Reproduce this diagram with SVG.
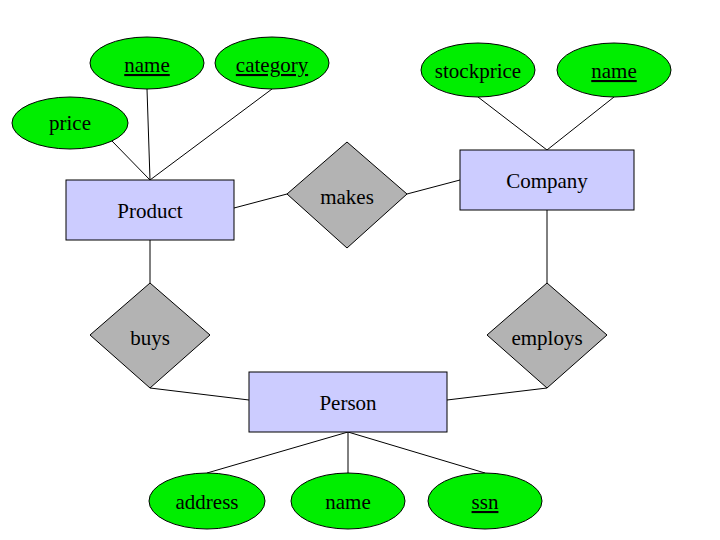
<svg xmlns="http://www.w3.org/2000/svg" width="720" height="540" viewBox="0 0 720 540">
<style>
.e{fill:#00ee00;stroke:#000;stroke-width:1}
.r{fill:#ccccff;stroke:#000;stroke-width:1}
.d{fill:#b3b3b3;stroke:#000;stroke-width:1}
.c line{stroke:#000;stroke-width:1}
text{font-family:"Liberation Serif",serif;font-size:21px;text-anchor:middle;fill:#000}
.u{text-decoration:underline}
</style>
<rect width="720" height="540" fill="#fff"/>
<g class="c">
<line x1="147" y1="89" x2="150" y2="180"/>
<line x1="272" y1="89" x2="150" y2="180"/>
<line x1="112" y1="141" x2="150" y2="180"/>
<line x1="234" y1="208" x2="287" y2="194"/>
<line x1="407" y1="194" x2="460" y2="180"/>
<line x1="478" y1="97" x2="547" y2="150"/>
<line x1="614" y1="97" x2="547" y2="150"/>
<line x1="547" y1="210" x2="547" y2="283"/>
<line x1="150" y1="240" x2="150" y2="283"/>
<line x1="150" y1="388" x2="249" y2="400"/>
<line x1="547" y1="388" x2="447" y2="400"/>
<line x1="348" y1="432" x2="207" y2="473"/>
<line x1="348" y1="432" x2="348" y2="473"/>
<line x1="348" y1="432" x2="485" y2="473"/>
</g>
<g id="name1"><ellipse class="e" cx="147" cy="63" rx="57" ry="26"/><text class="u" x="147" y="72">name</text></g>
<g id="category"><ellipse class="e" cx="272" cy="63" rx="57" ry="26"/><text class="u" x="272" y="72">category</text></g>
<g id="stockprice"><ellipse class="e" cx="478" cy="70" rx="57" ry="27"/><text x="478" y="78">stockprice</text></g>
<g id="name2"><ellipse class="e" cx="614" cy="70" rx="57" ry="27"/><text class="u" x="614" y="78">name</text></g>
<g id="price"><ellipse class="e" cx="70" cy="123" rx="58" ry="26"/><text x="70" y="130">price</text></g>
<g id="address"><ellipse class="e" cx="207" cy="501" rx="58" ry="28"/><text x="207" y="509">address</text></g>
<g id="name3"><ellipse class="e" cx="348" cy="501" rx="57" ry="28"/><text x="348" y="509">name</text></g>
<g id="ssn"><ellipse class="e" cx="485" cy="501" rx="57" ry="28"/><text class="u" x="485" y="509">ssn</text></g>
<g id="product"><rect class="r" x="66" y="180" width="168" height="60"/><text x="150" y="218">Product</text></g>
<g id="company"><rect class="r" x="460" y="150" width="174" height="60"/><text x="547" y="188">Company</text></g>
<g id="person"><rect class="r" x="249" y="372" width="198" height="60"/><text x="348" y="410">Person</text></g>
<g id="makes"><polygon class="d" points="347,142 407,194 347,248 287,194"/><text x="347" y="204">makes</text></g>
<g id="buys"><polygon class="d" points="150,283 210,335 150,388 90,335"/><text x="150" y="345">buys</text></g>
<g id="employs"><polygon class="d" points="547,283 607,335 547,388 487,335"/><text x="547" y="345">employs</text></g>
</svg>
